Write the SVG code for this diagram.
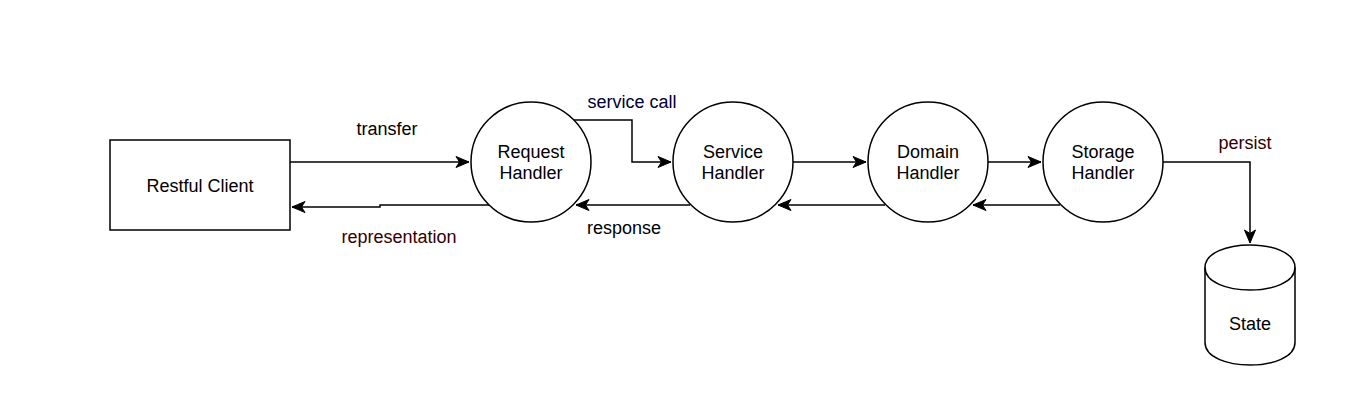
<svg xmlns="http://www.w3.org/2000/svg" width="1348" height="420" viewBox="0 0 1348 420">
<style>
.shape{fill:#fff;stroke:#000;stroke-width:1.5}
.edge{fill:none;stroke:#000;stroke-width:1.5}
text{font-family:"Liberation Sans",Arial,sans-serif;font-size:18px;fill:#000;text-anchor:middle}
</style>
<defs>
<marker id="arr" markerUnits="userSpaceOnUse" markerWidth="16" markerHeight="14" viewBox="0 0 16 14" refX="14" refY="7" orient="auto">
<path d="M1,1.5 L14,7 L1,12.5 L4.5,7 Z" fill="#000" stroke="#000" stroke-width="1"/>
</marker>
</defs>
<rect width="1348" height="420" fill="#fff"/>
<g id="connectors">
<path class="edge" d="M290,162 L469,162" marker-end="url(#arr)"/>
<path class="edge" d="M489,205 L380,205 L380,207 L292,207" marker-end="url(#arr)"/>
<path class="edge" d="M574,120 L632,120 L632,162 L671,162" marker-end="url(#arr)"/>
<path class="edge" d="M690,205 L576,205" marker-end="url(#arr)"/>
<path class="edge" d="M793,162 L866,162" marker-end="url(#arr)"/>
<path class="edge" d="M885,205 L778,205" marker-end="url(#arr)"/>
<path class="edge" d="M988,162 L1041,162" marker-end="url(#arr)"/>
<path class="edge" d="M1060,205 L973,205" marker-end="url(#arr)"/>
<path class="edge" d="M1163,162 L1250,162 L1250,243" marker-end="url(#arr)"/>
<text x="387" y="135">transfer</text>
<text x="399" y="243" style="fill:#330000">representation</text>
<text x="632" y="108" style="fill:#000033">service call</text>
<text x="624" y="234">response</text>
<text x="1245" y="149" style="fill:#330000">persist</text>
</g>
<g id="restful-client">
<rect class="shape" x="110" y="140" width="180" height="90"/>
<text x="200" y="192">Restful Client</text>
</g>
<g id="request-handler">
<circle class="shape" cx="531" cy="162" r="60"/>
<text x="531" y="158">Request</text>
<text x="531" y="179">Handler</text>
</g>
<g id="service-handler">
<circle class="shape" cx="733" cy="162" r="60"/>
<text x="733" y="158">Service</text>
<text x="733" y="179">Handler</text>
</g>
<g id="domain-handler">
<circle class="shape" cx="928" cy="162" r="60"/>
<text x="928" y="158">Domain</text>
<text x="928" y="179">Handler</text>
</g>
<g id="storage-handler">
<circle class="shape" cx="1103" cy="162" r="60"/>
<text x="1103" y="158">Storage</text>
<text x="1103" y="179">Handler</text>
</g>
<g id="state">
<path class="shape" d="M1205,267.5 C1205,237.5 1295,237.5 1295,267.5 L1295,342.5 C1295,372.5 1205,372.5 1205,342.5 Z"/>
<path class="edge" d="M1205,267.5 C1205,297.5 1295,297.5 1295,267.5"/>
<text x="1250" y="330">State</text>
</g>
</svg>
